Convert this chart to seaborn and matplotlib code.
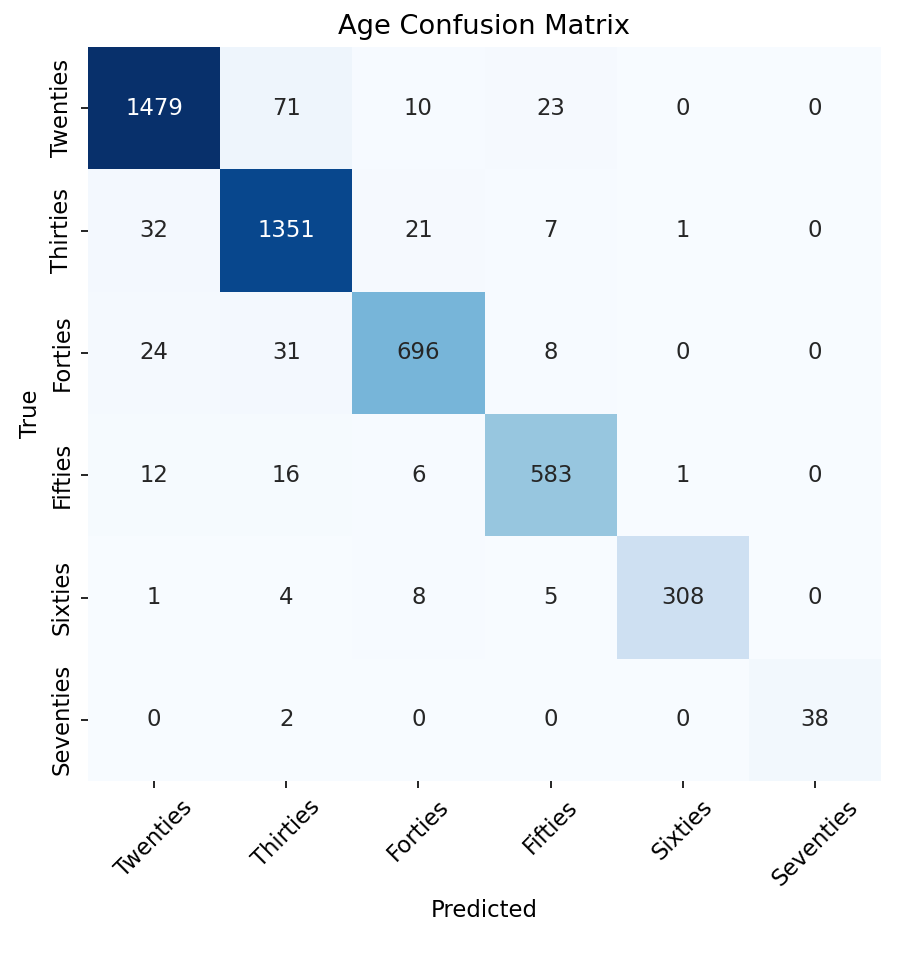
import matplotlib
matplotlib.use("Agg")
import matplotlib.pyplot as plt
import seaborn as sns
import numpy as np

# age group labels
labels = ["Twenties", "Thirties", "Forties", "Fifties", "Sixties", "Seventies"]

# confusion matrix rows (true) x columns (predicted)
row_twenties = [1479, 71, 10, 23, 0, 0]
row_thirties = [32, 1351, 21, 7, 1, 0]
row_forties = [24, 31, 696, 8, 0, 0]
row_fifties = [12, 16, 6, 583, 1, 0]
row_sixties = [1, 4, 8, 5, 308, 0]
row_seventies = [0, 2, 0, 0, 0, 38]

cm = np.array([row_twenties, row_thirties, row_forties,
               row_fifties, row_sixties, row_seventies])

plt.rcParams['font.size'] = 10.9

fig = plt.figure(figsize=(904 / 150, 956 / 150), dpi=150)
ax = fig.add_axes([88 / 904, 1 - 781 / 956, (881 - 88) / 904, (781 - 47) / 956])

sns.heatmap(cm, annot=True, fmt="d", cmap="Blues", cbar=False,
            xticklabels=labels, yticklabels=labels, ax=ax)
ax.set_title("Age Confusion Matrix")
ax.set_xlabel("Predicted")
ax.set_ylabel("True")
plt.setp(ax.get_xticklabels(), rotation=45)
plt.setp(ax.get_yticklabels(), rotation=90, va="center")

fig.savefig("out.png", dpi=150)
